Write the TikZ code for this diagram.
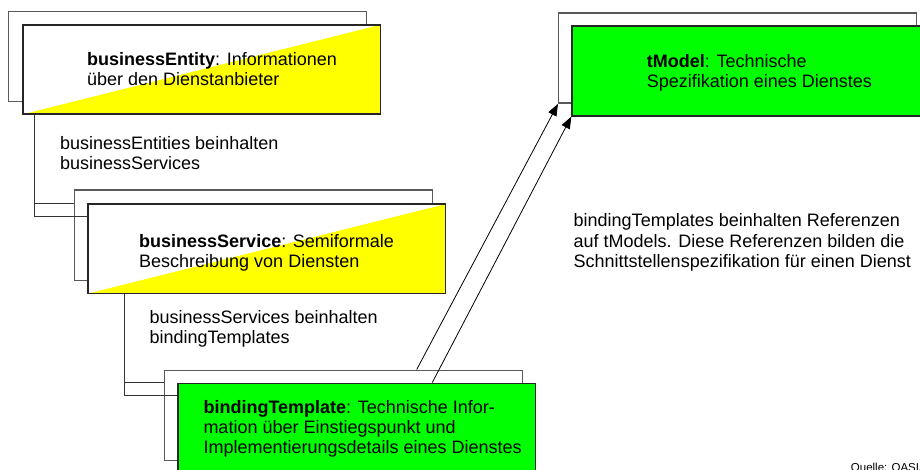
\documentclass[tikz,border=0pt]{standalone}
\usepackage{fontspec}
\setmainfont{Liberation Sans}
\usetikzlibrary{calc,arrows.meta}
\definecolor{uddiyellow}{RGB}{255,255,0}
\definecolor{uddigreen}{RGB}{0,255,0}
\begin{document}
\begin{tikzpicture}[x=1pt,y=-1pt,
  backbox/.style={draw=black!65,line width=1.3pt,fill=white,inner sep=0pt,
    minimum width=358pt,minimum height=90pt,anchor=north west},
  frontbox/.style={draw=black!85,line width=1.6pt,fill=white,inner sep=0pt,
    minimum width=357.5pt,minimum height=89.5pt,anchor=north west},
  halfyellow/.style={frontbox,path picture={
    \fill[uddiyellow] (path picture bounding box.south west) --
      (path picture bounding box.north east) --
      (path picture bounding box.south east) -- cycle;}},
  fullgreen/.style={frontbox,fill=uddigreen},
  % multi-line labels: the base anchor sits on the last line
  txt/.style={anchor=base west,align=left,inner sep=0pt,
    font=\fontsize{18}{20}\selectfont},
  link/.style={draw=black!80,line width=1pt},
  ref/.style={draw=black,line width=0.8pt,
    -{Triangle[length=12pt,width=9pt]}},
  credit/.style={anchor=base west,inner sep=0pt,font=\fontsize{11.5}{13}\selectfont}]
\useasboundingbox (0,0) rectangle (920,470);
\clip (0,0) rectangle (920,470);

% businessEntity
\node[backbox] (ent-b) at (8,11) {};
\node[halfyellow] (ent-f) at (22,24) {};
\node[txt] (ent-t) at (87,85.5) {\textbf{businessEntity}: Informationen\\über den Dienstanbieter};

% businessService
\node[backbox] (srv-b) at (74,189.5) {};
\coordinate (ent-drop) at ($(ent-f.south west)+(12,0)$);
\node[halfyellow] (srv-f) at (87.3,203.3) {};
\draw[link] (ent-drop) |- ($(srv-f.north west)+(0,13.4)$);
\draw[link] (ent-drop |- srv-f.north) -- (srv-b.west |- srv-f.north);
\node[txt] (ent-l) at (60,169.5) {businessEntities beinhalten\\businessServices};
\node[txt] (srv-t) at (139,267) {\textbf{businessService}: Semiformale\\Beschreibung von Diensten};

% bindingTemplate
\node[backbox] (bnd-b) at (164,369.5) {};
\coordinate (srv-drop) at ($(srv-f.south west)+(36.7,0)$);
\node[fullgreen] (bnd-f) at (177.3,382.5) {};
\draw[link] (srv-drop) |- ($(bnd-f.north west)+(0,13.4)$);
\draw[link] (srv-drop |- bnd-f.north) -- (bnd-b.west |- bnd-f.north);
\node[txt] (srv-l) at (149.3,343) {businessServices beinhalten\\bindingTemplates};
\node[txt] (bnd-t) at (203.3,453.5) {\textbf{bindingTemplate}: Technische Infor-\\mation über Einstiegspunkt und\\Implementierungsdetails eines Dienstes};

% tModel
\node[backbox] (tm-b) at (558,12.5) {};
\node[fullgreen] (tm-f) at (571.3,25.5) {};
\node[txt] (tm-t) at (646.7,87.5) {\textbf{tModel}: Technische\\Spezifikation eines Dienstes};

% references from bindingTemplate to tModel
\draw[ref] ($(bnd-b.north west)+(252.7,0)$) -- (tm-b.south west);
\draw[ref] ($(bnd-f.north west)+(255,0)$) -- (tm-f.south west);
\node[txt] (ref-l) at (573.5,267) {bindingTemplates beinhalten Referenzen\\auf tModels. Diese Referenzen bilden die\\Schnittstellenspezifikation für einen Dienst};

\node[credit] (src) at (850.7,471.5) {Quelle: OASIS};
\end{tikzpicture}
\end{document}
